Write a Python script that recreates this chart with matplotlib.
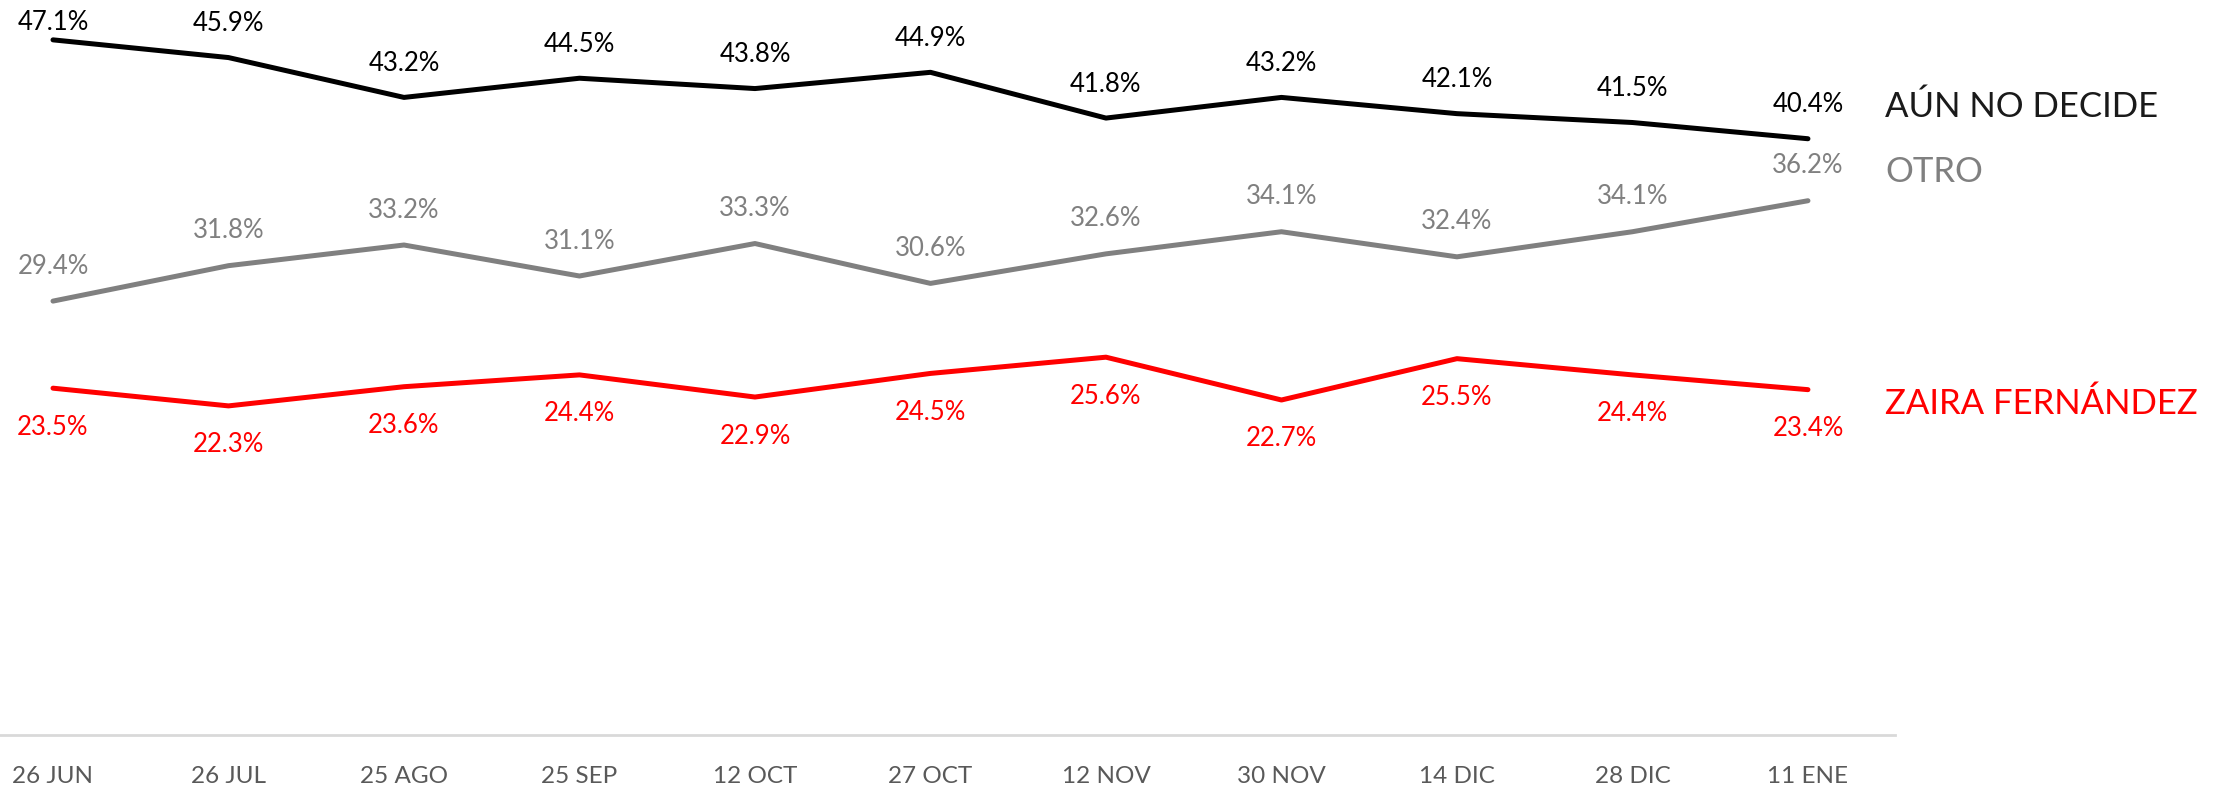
import numpy as np
import matplotlib
matplotlib.use("Agg")
import matplotlib.pyplot as plt

plt.rcParams['font.family'] = ['Lato', 'DejaVu Sans']

fechas = ["26 JUN", "26 JUL", "25 AGO", "25 SEP", "12 OCT", "27 OCT",
          "12 NOV", "30 NOV", "14 DIC", "28 DIC", "11 ENE"]
aun_no_decide = [47.1, 45.9, 43.2, 44.5, 43.8, 44.9, 41.8, 43.2, 42.1, 41.5, 40.4]
otro = [29.4, 31.8, 33.2, 31.1, 33.3, 30.6, 32.6, 34.1, 32.4, 34.1, 36.2]
zaira = [23.5, 22.3, 23.6, 24.4, 22.9, 24.5, 25.6, 22.7, 25.5, 24.4, 23.4]

# name, values, colour, label offset (px), name offset (px)
series = [
    ("AÚN NO DECIDE", aun_no_decide, "#000000", 34, 32),
    ("OTRO", otro, "#808080", 35, 29),
    ("ZAIRA FERNÁNDEZ", zaira, "#ff0000", -39, -14),
]

fig = plt.figure(figsize=(22.2, 7.89), dpi=100)
ax = fig.add_axes([0, 0.0684, 0.8536, 0.9316])
x = np.arange(len(fechas))
ymax = 49.8
px_per_unit = 735 / ymax

for name, vals, color, off, name_off in series:
    ax.plot(x, vals, color=color, lw=3.6, solid_capstyle='round', solid_joinstyle='round')
    for xi, v in zip(x, vals):
        dy = off
        # keep labels inside the top edge
        room = (ymax - v) * px_per_unit - 22
        if dy > 0 and dy > room:
            dy = room
        ax.annotate(f"{v}%", (xi, v), xytext=(0, dy), textcoords='offset pixels',
                    ha='center', va='center', fontsize=18.5, color=color)
    name_color = "#1a1a1a" if color == "#000000" else color
    ax.annotate(name, (x[-1], vals[-1]), xytext=(77, name_off), textcoords='offset pixels',
                ha='left', va='center', fontsize=25, color=name_color, annotation_clip=False)

ax.set_xlim(-0.302, 10.496)
ax.set_ylim(0, ymax)
ax.set_xticks(x)
ax.set_xticklabels(fechas, fontsize=17.5, color="#595959")
ax.tick_params(axis='x', length=0, pad=22)
ax.set_yticks([])
for s in ['top', 'right', 'left']:
    ax.spines[s].set_visible(False)
ax.spines['bottom'].set_color("#d9d9d9")
ax.spines['bottom'].set_linewidth(2)

fig.savefig("out.png", dpi=100)
